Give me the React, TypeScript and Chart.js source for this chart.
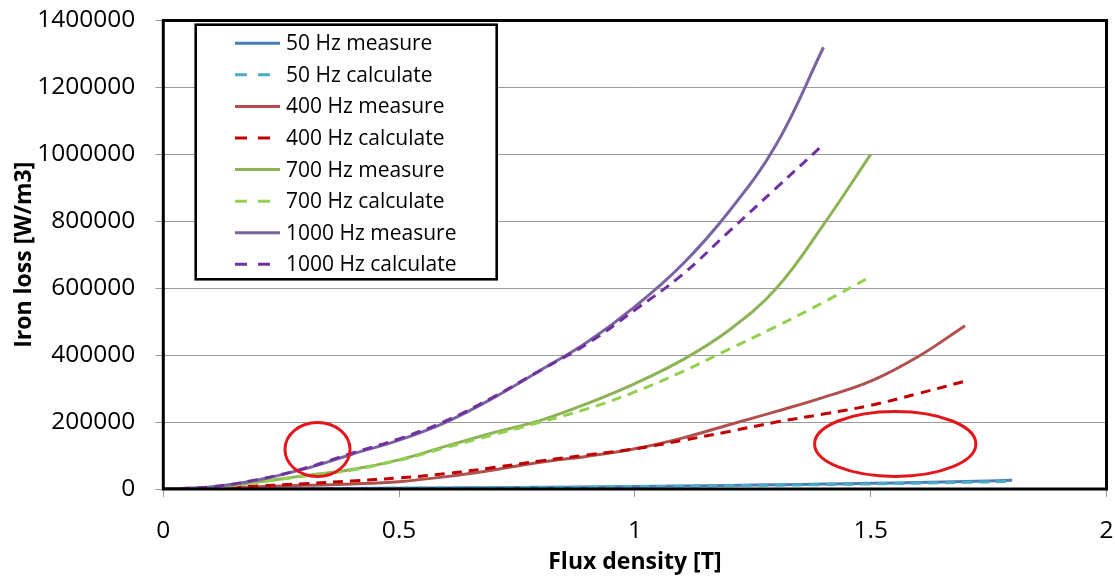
import React, { useEffect, useRef } from "react";
import { Chart, registerables } from "chart.js";

Chart.register(...registerables);

// ---------- data ----------
const fluxDensity = [0, 0.1, 0.2, 0.3, 0.4, 0.5, 0.6, 0.7, 0.8, 0.9, 1.0, 1.1, 1.2, 1.3, 1.4, 1.5, 1.6, 1.7, 1.8];

const loss50Measure = [0, 150, 500, 1000, 1600, 2300, 3100, 4000, 5000, 6200, 7500, 9000, 10700, 12600, 14700, 17000, 19500, 22500, 26000];
const loss50Calculate = [0, 140, 470, 940, 1500, 2150, 2900, 3750, 4700, 5800, 7000, 8300, 9800, 11400, 13200, 15200, 17400, 19800, 22500];
const loss400Measure = [0, 2000, 7000, 11000, 15000, 22000, 37000, 57000, 80000, 98000, 120000, 152000, 192000, 232000, 274000, 322000, 395000, 488000];
const loss400Calculate = [0, 2000, 9000, 16000, 24000, 33000, 46000, 64000, 84000, 102000, 120000, 145000, 172000, 200000, 224000, 250000, 285000, 322000];
const loss700Measure = [0, 5000, 21000, 40000, 58000, 87000, 128000, 168000, 205000, 256000, 315000, 385000, 475000, 600000, 790000, 1000000];
const loss700Calculate = [0, 5000, 20000, 39000, 57000, 86000, 124000, 162000, 200000, 240000, 290000, 350000, 418000, 486000, 558000, 635000];
const loss1000Measure = [0, 6000, 27000, 60000, 104000, 146000, 200000, 272000, 355000, 440000, 545000, 670000, 830000, 1030000, 1320000];
const loss1000Calculate = [0, 6000, 28000, 62000, 107000, 150000, 204000, 275000, 355000, 435000, 535000, 640000, 770000, 900000, 1030000];

const seriesLabels = [
  "50 Hz measure",
  "50 Hz calculate",
  "400 Hz measure",
  "400 Hz calculate",
  "700 Hz measure",
  "700 Hz calculate",
  "1000 Hz measure",
  "1000 Hz calculate",
];
const seriesValues = [
  loss50Measure,
  loss50Calculate,
  loss400Measure,
  loss400Calculate,
  loss700Measure,
  loss700Calculate,
  loss1000Measure,
  loss1000Calculate,
];
const seriesColors = ["#4A7EBB", "#4BACC6", "#B0504E", "#C00000", "#8CB356", "#92D050", "#7A64A0", "#7030A0"];
const seriesDashed = [false, true, false, true, false, true, false, true];

const xTickValues = [0, 0.5, 1, 1.5, 2];
const yTickValues = [0, 200000, 400000, 600000, 800000, 1000000, 1200000, 1400000];

// highlight ellipses (center flux, center loss, radius flux, radius loss)
const highlightCenterX = [0.327, 1.552];
const highlightCenterY = [118000, 134600];
const highlightRadiusX = [0.069, 0.171];
const highlightRadiusY = [80600, 97000];

const FONT = "'Open Sans', 'DejaVu Sans', sans-serif";

const overlayPlugin = {
  id: "overlay",
  afterDatasetsDraw(chart: any) {
    const { ctx, chartArea, scales } = chart;
    const xs = scales.x;
    const ys = scales.y;
    ctx.save();
    // ellipses
    ctx.strokeStyle = "#E3161B";
    ctx.lineWidth = 3;
    for (let i = 0; i < highlightCenterX.length; i++) {
      const cx = xs.getPixelForValue(highlightCenterX[i]);
      const cy = ys.getPixelForValue(highlightCenterY[i]);
      const rx = xs.getPixelForValue(highlightCenterX[i] + highlightRadiusX[i]) - cx;
      const ry = cy - ys.getPixelForValue(highlightCenterY[i] + highlightRadiusY[i]);
      ctx.beginPath();
      ctx.ellipse(cx, cy, rx, ry, 0, 0, Math.PI * 2);
      ctx.stroke();
    }
    // plot border
    ctx.strokeStyle = "#000";
    ctx.lineWidth = 3;
    ctx.strokeRect(chartArea.left, chartArea.top, chartArea.right - chartArea.left, chartArea.bottom - chartArea.top);

    // legend box
    const bx = 195.7, by = 24.7, bw = 301, bh = 254.6;
    ctx.fillStyle = "#fff";
    ctx.fillRect(bx, by, bw, bh);
    ctx.lineWidth = 2.6;
    ctx.strokeStyle = "#000";
    ctx.strokeRect(bx, by, bw, bh);
    const rowStart = 43.3;
    const rowStep = 31.57;
    ctx.font = `21px ${FONT}`;
    ctx.textBaseline = "middle";
    ctx.textAlign = "left";
    chart.data.datasets.forEach((ds: any, i: number) => {
      const y = rowStart + i * rowStep;
      ctx.beginPath();
      ctx.strokeStyle = ds.borderColor;
      ctx.lineWidth = 3;
      ctx.setLineDash(ds.borderDash && ds.borderDash.length ? [12, 11] : []);
      ctx.moveTo(235, y);
      ctx.lineTo(280, y);
      ctx.stroke();
      ctx.setLineDash([]);
      ctx.fillStyle = "#000";
      ctx.fillText(ds.label, 286, y + 1);
    });
    ctx.restore();
  },
};

export default function App() {
  const canvasRef = useRef<HTMLCanvasElement | null>(null);

  useEffect(() => {
    if (!canvasRef.current) return;
    const datasets = seriesLabels.map((label, i) => ({
      label,
      data: seriesValues[i].map((v, j) => ({ x: fluxDensity[j], y: v })),
      borderColor: seriesColors[i],
      backgroundColor: seriesColors[i],
      borderWidth: 3,
      borderDash: seriesDashed[i] ? [10, 7] : [],
      pointRadius: 0,
      fill: false,
      tension: 0.4,
      order: seriesLabels.length - i,
    }));

    const chart = new Chart(canvasRef.current, {
      type: "line",
      data: { datasets },
      options: {
        animation: false,
        responsive: false,
        devicePixelRatio: 1,
        layout: { padding: { top: 20.5, right: 8.5, left: 0, bottom: 0 } },
        plugins: {
          legend: { display: false },
          tooltip: { enabled: false },
        },
        scales: {
          x: {
            type: "linear",
            min: 0,
            max: 2,
            afterFit: (s: any) => {
              s.height = 90;
              s.paddingLeft = 0;
              s.paddingRight = 0;
            },
            afterBuildTicks: (s: any) => {
              s.ticks = xTickValues.map((v) => ({ value: v }));
            },
            ticks: {
              color: "#000",
              font: { family: FONT, size: 24.5 },
              padding: 19,
              maxRotation: 0,
              callback: (v: any) => String(v),
            },
            grid: {
              drawOnChartArea: false,
              drawTicks: true,
              tickLength: 8,
              tickColor: "#999",
            },
            border: { display: false },
            title: {
              display: true,
              text: "Flux density [T]",
              color: "#000",
              font: { family: FONT, size: 23, weight: "bold" },
              padding: { top: 0, bottom: 3 },
            },
          },
          y: {
            type: "linear",
            min: 0,
            max: 1400000,
            afterFit: (s: any) => {
              s.width = 163.3;
              s.paddingTop = 0;
              s.paddingBottom = 0;
            },
            afterBuildTicks: (s: any) => {
              s.ticks = yTickValues.map((v) => ({ value: v }));
            },
            ticks: {
              color: "#000",
              font: { family: FONT, size: 24.5 },
              padding: 20,
              callback: (v: any) => String(v),
            },
            grid: {
              color: "#9a9a9a",
              lineWidth: 1,
              drawTicks: true,
              tickLength: 8,
              tickColor: "#9a9a9a",
            },
            border: { display: false },
            title: {
              display: true,
              text: "Iron loss [W/m3]",
              color: "#000",
              font: { family: FONT, size: 23, weight: "bold" },
              padding: { top: 11, bottom: 0 },
            },
          },
        },
      },
      plugins: [overlayPlugin],
    });
    return () => chart.destroy();
  }, []);

  return (
    <div style={{ position: "fixed", left: 0, top: 0, width: 1115, height: 579, background: "#fff" }}>
      <canvas ref={canvasRef} width={1115} height={579} style={{ width: 1115, height: 579, display: "block" }} />
    </div>
  );
}
